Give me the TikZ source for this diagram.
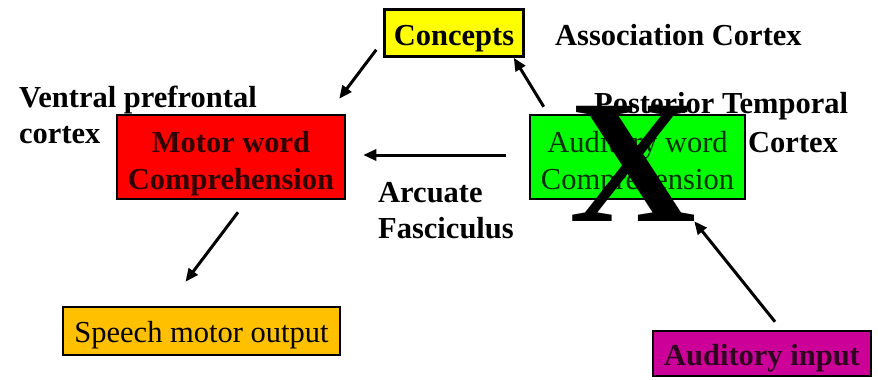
\documentclass[tikz,border=0pt]{standalone}
\usepackage{fontspec}
\setmainfont{Liberation Serif}
\usetikzlibrary{arrows.meta}
\definecolor{cyel}{HTML}{FFFF00}
\definecolor{cred}{HTML}{FF0000}
\definecolor{cgreen}{HTML}{00FF00}
\definecolor{corange}{HTML}{FFC000}
\definecolor{cmag}{HTML}{CC0099}
\definecolor{tred}{HTML}{300000}
\definecolor{tgreen}{HTML}{003000}
\definecolor{tmag}{HTML}{300020}
\tikzset{
  txt/.style={font=\fontsize{30.5}{37}\selectfont, inner sep=0pt},
  bftxt/.style={font=\fontsize{30.5}{37}\selectfont\bfseries},
  lbl/.style={txt, bftxt, align=left},
  box/.style={txt, draw=black, line width=2.5pt, align=center, text depth=0pt},
  arr/.style={line width=3pt, -{Triangle[length=13pt,width=11pt]}},
}
\begin{document}
\begin{tikzpicture}[x=1pt,y=-1pt]
\useasboundingbox (0,0) rectangle (878,380);
% boxes
\node[box, bftxt, fill=cyel, minimum width=139pt, minimum height=47pt, text height=24pt] (con) at (454,33) {Concepts};
\node[box, bftxt, fill=cred, text=tred, minimum width=228pt, minimum height=84pt, text height=64pt] (mot) at (231,157) {Motor word\\Comprehension};
\node[box, fill=cgreen, text=tgreen, minimum width=215pt, minimum height=84pt, text height=64pt] (aud) at (637.5,157) {Auditory word\\Comprehension};
\node[box, fill=corange, minimum width=277pt, minimum height=48pt, text height=22pt] (spe) at (201.5,331) {Speech motor output};
\node[box, bftxt, fill=cmag, text=tmag, minimum width=218pt, minimum height=45pt, text height=23pt] (inp) at (762,353.5) {Auditory input};
% labels
\node[lbl, anchor=base west] (assoc) at (555,45) {Association Cortex};
\node[lbl, anchor=base west] (vent1) at (19,107) {Ventral prefrontal};
\node[lbl, anchor=base west] (vent2) at (19,143) {cortex};
\node[lbl, anchor=base west] (arc1) at (378,202) {Arcuate};
\node[lbl, anchor=base west] (arc2) at (378,238) {Fasciculus};
\node[lbl, anchor=base west] (post1) at (594,113) {Posterior Temporal};
\node[lbl, anchor=base west] (post2) at (748,152) {Cortex};
% big X
\node[inner sep=0pt, anchor=base, font=\fontsize{176}{176}\selectfont\bfseries] (bigx) at (633,221) {X};
% arrows
\draw[arr] ([xshift=-7pt,yshift=8pt]con.south west) -- ([xshift=-7pt,yshift=15pt]mot.north east);
\draw[arr] ([xshift=15pt,yshift=7pt]aud.north west) -- ([xshift=-11pt]con.south east);
\draw[arr] ([xshift=-23pt,yshift=2pt]aud.west) -- ([xshift=17pt,yshift=2pt]mot.east);
\draw[arr] ([xshift=7pt,yshift=-12pt]mot.south) -- ([xshift=-16pt,yshift=24pt]spe.north);
\draw[arr] ([xshift=13pt,yshift=8pt]inp.north) -- ([xshift=-52pt,yshift=-21pt]aud.south east);
\end{tikzpicture}
\end{document}
